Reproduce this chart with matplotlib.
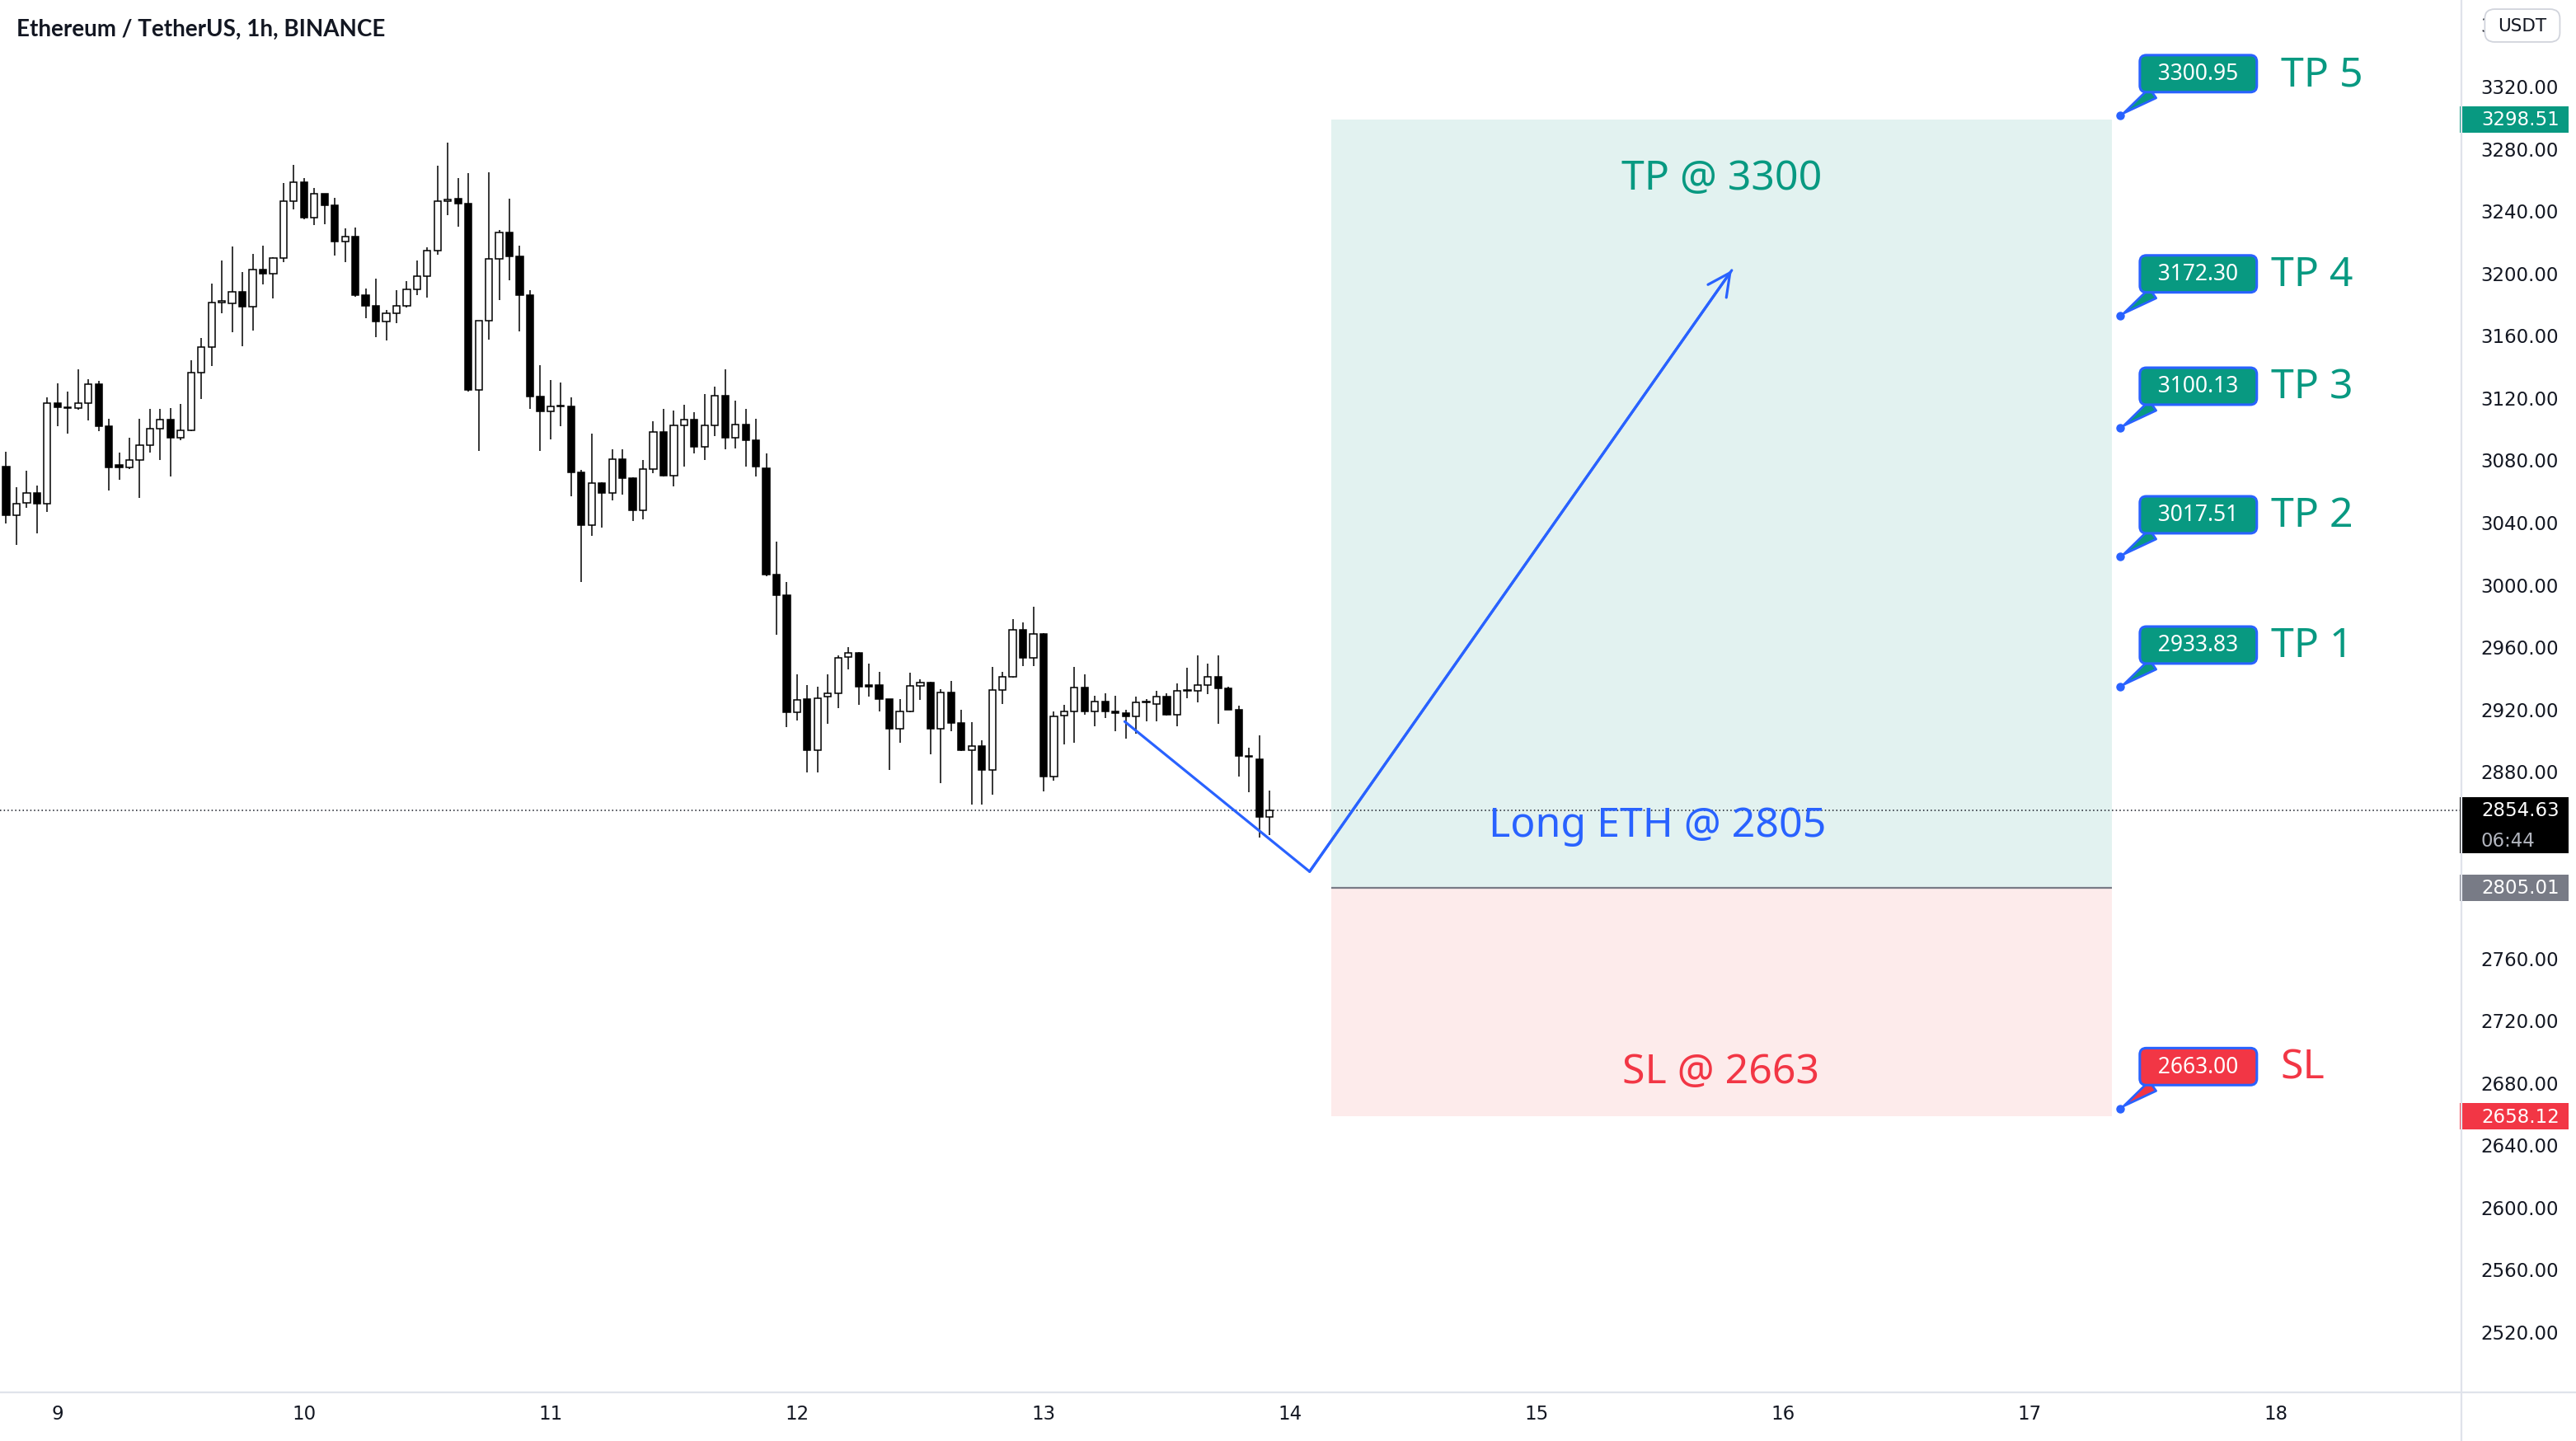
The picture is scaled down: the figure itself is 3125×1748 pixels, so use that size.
import matplotlib
matplotlib.use('Agg')
import matplotlib.pyplot as plt
import numpy as np
from matplotlib.patches import Rectangle, FancyBboxPatch
from matplotlib.lines import Line2D
from matplotlib.transforms import blended_transform_factory

# ---------------- data ----------------
title = 'Ethereum / TetherUS, 1h, BINANCE'
first_hour = -5          # hours relative to day 9 00:00
opens = [3075.7, 3044.5, 3052.2, 3058.8, 3051.4, 3116.4, 3113.5, 3113.0, 3116.4, 3128.7,
         3101.2, 3076.3, 3075.2, 3079.8, 3089.5, 3099.7, 3105.5, 3093.8, 3098.8, 3136.1,
         3152.3, 3181.1, 3180.4, 3188.0, 3178.0, 3202.1, 3199.2, 3209.5, 3246.2, 3258.4,
         3235.4, 3250.6, 3243.6, 3220.0, 3223.3, 3185.8, 3178.9, 3168.5, 3174.1, 3178.7,
         3189.3, 3198.0, 3214.0, 3246.2, 3247.5, 3244.3, 3125.0, 3169.4, 3209.0, 3225.7,
         3210.3, 3185.8, 3120.7, 3111.1, 3114.2, 3114.0, 3072.0, 3037.9, 3064.7, 3058.6,
         3080.5, 3068.3, 3047.6, 3073.8, 3097.8, 3069.8, 3101.8, 3105.7, 3088.1, 3101.8,
         3120.9, 3094.2, 3102.7, 3092.6, 3074.4, 3006.0, 2992.9, 2917.8, 2926.0, 2893.5,
         2927.5, 2930.0, 2953.4, 2955.8, 2935.1, 2935.1, 2926.0, 2907.2, 2918.4, 2934.5,
         2936.6, 2907.2, 2930.6, 2910.8, 2893.5, 2896.2, 2880.4, 2932.1, 2940.6, 2970.4,
         2952.8, 2968.0, 2876.1, 2915.7, 2918.4, 2933.6, 2918.4, 2924.8, 2918.4, 2916.9,
         2914.8, 2923.9, 2923.0, 2927.8, 2916.3, 2931.5, 2931.5, 2935.1, 2940.6, 2933.0,
         2919.3, 2889.5, 2887.4, 2850.3]
highs = [3084.9, 3062.2, 3072.8, 3063.5, 3119.8, 3129.1, 3123.5, 3138.0, 3131.5, 3130.6,
         3106.0, 3084.5, 3094.1, 3106.4, 3112.4, 3112.4, 3113.3, 3115.7, 3143.6, 3157.9,
         3193.0, 3207.9, 3216.8, 3200.3, 3212.0, 3217.4, 3209.9, 3257.7, 3269.2, 3260.7,
         3254.5, 3251.0, 3248.4, 3228.3, 3229.1, 3189.9, 3196.5, 3175.9, 3189.1, 3194.7,
         3207.7, 3216.4, 3268.8, 3283.7, 3260.7, 3263.8, 3169.4, 3264.4, 3227.6, 3247.5,
         3217.4, 3189.1, 3140.6, 3131.3, 3129.5, 3119.8, 3073.5, 3096.6, 3065.3, 3086.6,
         3086.6, 3068.6, 3079.6, 3104.8, 3112.4, 3111.5, 3115.4, 3110.3, 3122.1, 3126.7,
         3138.2, 3117.6, 3112.4, 3106.3, 3084.1, 3027.3, 3001.5, 2942.2, 2935.1, 2933.9,
         2942.2, 2954.3, 2959.5, 2956.4, 2948.8, 2943.7, 2926.3, 2926.3, 2943.0, 2939.1,
         2937.0, 2932.4, 2937.6, 2919.3, 2911.1, 2899.6, 2946.7, 2943.7, 2977.7, 2975.6,
         2985.6, 2968.5, 2918.4, 2922.4, 2946.7, 2942.2, 2928.5, 2930.0, 2928.5, 2919.3,
         2927.5, 2926.0, 2931.5, 2930.0, 2936.0, 2946.1, 2954.3, 2949.1, 2954.3, 2933.9,
         2921.8, 2895.0, 2902.6, 2867.6]
lows = [3039.0, 3025.0, 3049.2, 3032.4, 3046.4, 3101.6, 3096.6, 3112.0, 3105.3, 3098.4,
        3060.3, 3066.8, 3074.0, 3055.1, 3084.5, 3079.8, 3069.2, 3092.3, 3098.5, 3118.9,
        3139.9, 3174.1, 3161.6, 3152.7, 3163.1, 3192.7, 3183.4, 3207.1, 3240.6, 3234.6,
        3230.7, 3231.3, 3211.2, 3207.1, 3184.8, 3170.9, 3158.8, 3156.6, 3167.7, 3177.8,
        3185.4, 3183.9, 3211.8, 3236.9, 3229.4, 3123.5, 3085.8, 3157.3, 3182.6, 3195.1,
        3162.2, 3112.4, 3085.4, 3093.2, 3101.6, 3056.6, 3001.5, 3031.2, 3036.4, 3054.0,
        3057.7, 3040.3, 3041.6, 3071.3, 3068.9, 3062.8, 3075.3, 3084.1, 3079.9, 3095.1,
        3086.6, 3087.2, 3075.3, 3069.2, 3005.1, 2967.4, 2908.1, 2912.6, 2879.2, 2879.2,
        2910.2, 2920.2, 2945.2, 2922.4, 2927.8, 2918.4, 2880.4, 2898.0, 2917.8, 2925.4,
        2890.5, 2872.2, 2905.6, 2893.0, 2858.5, 2858.5, 2864.6, 2923.0, 2940.0, 2947.3,
        2947.3, 2866.7, 2873.7, 2897.1, 2898.0, 2916.3, 2908.7, 2913.8, 2905.6, 2900.5,
        2904.1, 2911.7, 2911.7, 2915.7, 2908.7, 2926.9, 2923.9, 2929.1, 2910.2, 2919.0,
        2876.1, 2866.1, 2837.2, 2838.8]
closes = [3044.5, 3051.8, 3058.8, 3051.4, 3116.4, 3113.5, 3113.0, 3116.4, 3128.7, 3101.2,
          3075.2, 3075.2, 3079.8, 3089.5, 3099.7, 3105.5, 3093.8, 3098.8, 3136.1, 3152.3,
          3181.1, 3181.3, 3188.0, 3178.0, 3202.1, 3199.2, 3209.5, 3246.2, 3258.4, 3235.4,
          3250.6, 3243.6, 3220.0, 3223.3, 3185.8, 3178.9, 3168.5, 3174.1, 3178.7, 3189.3,
          3198.0, 3214.0, 3246.2, 3246.9, 3244.3, 3125.0, 3169.4, 3209.0, 3225.7, 3210.3,
          3185.8, 3120.7, 3111.1, 3114.2, 3114.0, 3071.9, 3037.9, 3064.7, 3058.6, 3080.5,
          3068.3, 3047.6, 3073.8, 3097.8, 3069.8, 3101.8, 3105.7, 3088.1, 3101.8, 3120.9,
          3094.2, 3102.7, 3092.6, 3075.3, 3006.0, 2992.9, 2917.8, 2925.4, 2893.5, 2926.9,
          2929.7, 2952.8, 2955.8, 2933.9, 2933.9, 2926.0, 2907.2, 2918.4, 2934.5, 2936.6,
          2907.2, 2930.6, 2910.8, 2893.5, 2896.2, 2880.4, 2932.1, 2940.6, 2970.4, 2952.8,
          2968.0, 2876.1, 2914.8, 2918.4, 2933.6, 2918.4, 2924.8, 2918.4, 2917.2, 2914.8,
          2923.9, 2924.2, 2927.8, 2916.3, 2931.5, 2931.8, 2935.1, 2940.6, 2933.0, 2919.3,
          2889.5, 2888.9, 2850.3, 2854.63]

day_labels = ['9', '10', '11', '12', '13', '14', '15', '16', '17', '18']
price_ticks = [2520, 2560, 2600, 2640, 2680, 2720, 2760, 2880, 2920, 2960, 3000, 3040,
               3080, 3120, 3160, 3200, 3240, 3280, 3320, 3360]

entry = 2805.01
tp_top = 3298.51
sl_bottom = 2658.12
last_price = 2854.63
countdown = '06:44'
position_start, position_end = 124, 200     # hours

path_hours = [103.9, 121.9, 163.0]
path_prices = [2911.7, 2815.3, 3201.6]

callout_values = [3300.95, 3172.30, 3100.13, 3017.51, 2933.83, 2663.00]
callout_names = ['TP 5', 'TP 4', 'TP 3', 'TP 2', 'TP 1', 'SL']
callout_is_sl = [False, False, False, False, False, True]
callout_hour = 200.8

# ---------------- style ----------------
GREEN = '#089981'
RED = '#f23645'
BLUE = '#2962ff'
GRAY = '#787b86'
TXT = '#131722'
SANS = ['Noto Sans', 'DejaVu Sans']

W, H, DPI = 3125, 1749, 100
fig = plt.figure(figsize=(W / DPI, H / DPI), dpi=DPI)
fig.patch.set_facecolor('white')
ax_right_px, ax_bottom_px = 2986, 1690
ax = fig.add_axes([0, 1 - ax_bottom_px / H, ax_right_px / W, ax_bottom_px / H])
ax.set_xlim(-5.6, 234.04)
ax.set_ylim(2480.7, 3375.8)
for s in ax.spines.values():
    s.set_visible(False)

# candles
hours = first_hour + np.arange(len(opens))
bw = 0.66
for x, o, h, l, c in zip(hours, opens, highs, lows, closes):
    ax.vlines(x, l, h, color='black', lw=1.1, zorder=3)
    bottom = min(o, c)
    height = max(abs(c - o), 0.6)
    fc = 'white' if c > o else 'black'
    ax.add_patch(Rectangle((x - bw / 2, bottom), bw, height, fc=fc, ec='black',
                           lw=1.1, zorder=4))

# position boxes
ax.add_patch(Rectangle((position_start, entry), position_end - position_start,
                       tp_top - entry, fc='#e2f2f0', ec='none', zorder=1))
ax.add_patch(Rectangle((position_start, sl_bottom), position_end - position_start,
                       entry - sl_bottom, fc='#fdebeb', ec='none', zorder=1))
ax.hlines(entry, position_start, position_end, color=GRAY, lw=1.6, zorder=2)

ax.text(162, 3261, 'TP @ 3300', color=GREEN, fontsize=36, ha='center', va='center',
        family=SANS, zorder=6)
ax.text(155.8, 2845, 'Long ETH @ 2805', color=BLUE, fontsize=36, ha='center',
        va='center', family=SANS, zorder=6)
ax.text(161.9, 2686.5, 'SL @ 2663', color=RED, fontsize=36, ha='center', va='center',
        family=SANS, zorder=6)

# last price dotted line
ax.axhline(last_price, color=TXT, lw=1.1, ls=(0, (1, 2)), zorder=2)

# forecast path
ax.plot(path_hours, path_prices, color=BLUE, lw=2.3, zorder=7, solid_capstyle='round')
ax.annotate('', xy=(path_hours[-1], path_prices[-1]), xytext=(path_hours[-2], path_prices[-2]),
            arrowprops=dict(arrowstyle='->,head_length=0.7,head_width=0.35', color=BLUE,
                            lw=2.3, shrinkA=0, shrinkB=0, mutation_scale=28), zorder=7)

# callouts
for v, name, is_sl in zip(callout_values, callout_names, callout_is_sl):
    fill = RED if is_sl else GREEN
    ax.annotate(f'  {v:.2f}  ', xy=(callout_hour, v), xytext=(95, 51),
                textcoords='offset pixels', ha='center', va='center', fontsize=19,
                color='white', family=SANS, fontweight='medium', zorder=8,
                bbox=dict(boxstyle='round,pad=0.32,rounding_size=0.3', fc=fill, ec=BLUE,
                          lw=2.2),
                arrowprops=dict(arrowstyle='wedge,tail_width=0.55,shrink_factor=0.5',
                                fc=fill, ec=BLUE, lw=2.0, relpos=(0.2, 0.1),
                                shrinkA=0, shrinkB=4))
    ax.plot([callout_hour], [v], 'o', color=BLUE, ms=6.5, zorder=9)
    dx = 195 if (name in ('TP 5', 'SL')) else 183
    ax.annotate(name, xy=(callout_hour, v), xytext=(dx, 50), textcoords='offset pixels',
                ha='left', va='center', fontsize=36, color=fill, family=SANS, zorder=8)

# axes ticks
ax.yaxis.tick_right()
ax.set_yticks(price_ticks)
ax.set_yticklabels([f'{t:.2f}' for t in price_ticks])
ax.tick_params(axis='y', length=0, pad=17, labelsize=16.5, labelcolor=TXT)
ax.set_xticks([(int(d) - 9) * 24 for d in day_labels])
ax.set_xticklabels(day_labels)
ax.tick_params(axis='x', length=0, pad=10, labelsize=16.5, labelcolor=TXT)

# separators
fig.add_artist(Line2D([ax_right_px / W] * 2, [0, 1], transform=fig.transFigure,
                      color='#e0e3eb', lw=1.6))
fig.add_artist(Line2D([0, 1], [1 - ax_bottom_px / H] * 2, transform=fig.transFigure,
                      color='#e0e3eb', lw=1.6))

# price tags on the axis
bt = blended_transform_factory(ax.transAxes, ax.transData)
x0, x1 = 0.9994, 1.0435
tx = 1.0080


def tag(lo, hi, fc, lines):
    ax.add_patch(Rectangle((x0, lo), x1 - x0, hi - lo, transform=bt, fc=fc, ec='none',
                           clip_on=False, zorder=10))
    for (yv, s, col) in lines:
        ax.text(tx, yv, s, transform=bt, ha='left', va='center', fontsize=16.5,
                color=col, clip_on=False, zorder=11)


tag(tp_top - 8.5, tp_top + 8.5, GREEN, [(tp_top, f'{tp_top:.2f}', 'white')])
tag(2827.1, 2863.1, 'black', [(last_price, f'{last_price:.2f}', 'white'),
                              (2835.5, countdown, '#b2b5be')])
tag(entry - 8.5, entry + 8.5, GRAY, [(entry, f'{entry:.2f}', 'white')])
tag(sl_bottom - 8.5, sl_bottom + 8.5, RED, [(sl_bottom, f'{sl_bottom:.2f}', 'white')])

# currency box (drawn over the partly hidden top tick label, as in the original)
ax.add_patch(FancyBboxPatch((1.0095, 3348.3), 0.0305, 21.1, transform=bt,
                            boxstyle='round,pad=0,rounding_size=0.004',
                            mutation_aspect=1500,
                            fc='white', ec='#d1d4dc', lw=1.3, clip_on=False, zorder=12))
ax.text(1.02475, 3358.8, 'USDT', transform=bt, ha='center', va='center', fontsize=15.5,
        color=TXT, clip_on=False, zorder=13)

# title
fig.text(20 / W, 1 - 36 / H, title, fontsize=20, fontweight='bold', ha='left',
         va='center', color=TXT, family=['Lato', 'DejaVu Sans'])

fig.savefig('out.png', dpi=DPI, facecolor='white')
